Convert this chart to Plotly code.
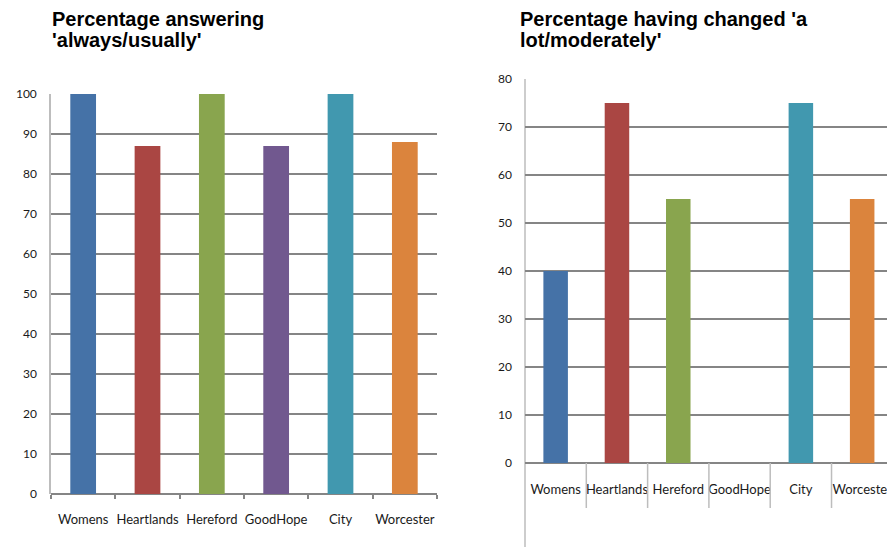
import plotly.graph_objects as go

W, H = 887, 547

categories = ["Womens", "Heartlands", "Hereford", "GoodHope", "City", "Worcester"]
always_usually = [100, 87, 100, 87, 100, 88]
changed_lot_moderately = [40, 75, 55, 0, 75, 55]
bar_colors = ["#4572A7", "#AA4643", "#89A54E", "#71588F", "#4198AF", "#DB843D"]

left_ticks = list(range(0, 101, 10))
right_ticks = list(range(0, 81, 10))

GRID = "#858585"
AXIS = "#BDBDBD"
Y_FONT = dict(family="Lato, Carlito, sans-serif", size=12, color="#1a1a1a")
X_FONT = dict(family="Lato, Carlito, sans-serif", size=13, color="#1a1a1a")
TITLE_FONT = dict(family="Liberation Sans, Arial, sans-serif", size=20, color="#000000")


def px_x(v):
    return v / W


def px_y(v):
    return 1 - v / H


fig = go.Figure()

fig.add_trace(go.Bar(
    x=categories, y=always_usually, xaxis="x", yaxis="y",
    marker=dict(color=bar_colors, line=dict(width=0)),
    showlegend=False, hoverinfo="x+y",
))
fig.add_trace(go.Bar(
    x=categories, y=changed_lot_moderately, xaxis="x2", yaxis="y2",
    marker=dict(color=bar_colors, line=dict(width=0)),
    showlegend=False, hoverinfo="x+y",
))

n = len(categories)

fig.update_layout(
    width=W, height=H,
    margin=dict(l=0, r=0, t=0, b=0),
    paper_bgcolor="white", plot_bgcolor="white",
    bargap=0.6,
    xaxis=dict(
        domain=[px_x(51), px_x(437)], anchor="y", automargin=False,
        type="category", range=[-0.5, n - 0.5], tickangle=0,
        showline=False, showgrid=False, zeroline=False,
        ticks="outside", tickson="boundaries", ticklen=4, tickwidth=1.5, tickcolor=GRID,
        ticklabelstandoff=16, tickfont=X_FONT,
    ),
    yaxis=dict(
        domain=[px_y(494), px_y(94)], anchor="x", automargin=False,
        range=[0, 100], tickvals=left_ticks,
        showgrid=True, gridcolor=GRID, gridwidth=2,
        zeroline=True, zerolinecolor=GRID, zerolinewidth=2,
        showline=True, linecolor=AXIS, linewidth=1.5,
        ticks="", ticklabelstandoff=10, tickfont=Y_FONT,
    ),
    xaxis2=dict(
        domain=[px_x(525), 1], anchor="y2", automargin=False,
        type="category", range=[-0.5, 5.405], tickangle=0,
        showline=False, showgrid=False, zeroline=False,
        ticks="", ticklabelstandoff=17, tickfont=X_FONT,
    ),
    yaxis2=dict(
        domain=[px_y(463), px_y(79)], anchor="x2", automargin=False,
        range=[0, 80], tickvals=right_ticks,
        showgrid=True, gridcolor=GRID, gridwidth=2,
        zeroline=True, zerolinecolor=GRID, zerolinewidth=2,
        showline=False,
        ticks="", ticklabelstandoff=12, tickfont=Y_FONT,
    ),
)

# Right-hand chart: long vertical axis line and category separators below the axis
shapes = [
    dict(type="line", xref="x2 domain", yref="paper", x0=0, x1=0,
         y0=0, y1=px_y(79), line=dict(color=AXIS, width=1.5), layer="below"),
]
for i in range(n):
    shapes.append(dict(
        type="line", xref="x2", yref="paper", x0=i + 0.5, x1=i + 0.5,
        y0=px_y(508), y1=px_y(463), line=dict(color=AXIS, width=1.5),
    ))
fig.update_layout(shapes=shapes)

# Two-line bold titles
titles = [
    (px_x(50), px_y(28), "Percentage answering"),
    (px_x(50), px_y(49), "'always/usually'"),
    (px_x(518), px_y(28), "Percentage having changed 'a"),
    (px_x(518), px_y(49), "lot/moderately'"),
]
fig.update_layout(annotations=[
    dict(x=x, y=y, xref="paper", yref="paper", text=f"<b>{t}</b>",
         showarrow=False, xanchor="left", yanchor="bottom", yshift=-4,
         font=TITLE_FONT)
    for x, y, t in titles
])

fig.write_html("out.html")
